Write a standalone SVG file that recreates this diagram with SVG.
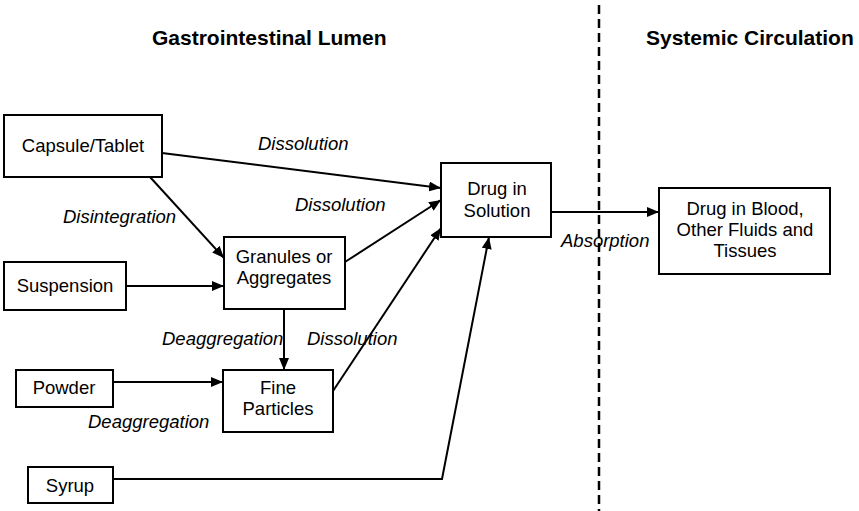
<svg xmlns="http://www.w3.org/2000/svg" width="859" height="511" viewBox="0 0 859 511">
<style>
  .box { fill: #fff; stroke: #000; stroke-width: 2; }
  .t { font-family: "Liberation Sans", Arial, sans-serif; font-size: 18.5px; fill: #000; text-anchor: middle; }
  .lbl { font-family: "Liberation Sans", Arial, sans-serif; font-size: 18.5px; font-style: italic; fill: #000; }
  .title { font-family: "Liberation Sans", Arial, sans-serif; font-size: 21px; font-weight: bold; fill: #000; }
  .c { fill: none; stroke: #000; stroke-width: 2; marker-end: url(#ah); }
</style>
<defs>
  <marker id="ah" viewBox="0 0 12 10" refX="12" refY="5" markerWidth="12" markerHeight="10" markerUnits="userSpaceOnUse" orient="auto">
    <path d="M0,0 L12,5 L0,10 Z" fill="#000"/>
  </marker>
</defs>
<rect width="859" height="511" fill="#fff"/>
<line x1="599" y1="5" x2="599" y2="511" stroke="#000" stroke-width="2.5" stroke-dasharray="9,5"/>
<text class="title" x="152" y="45">Gastrointestinal Lumen</text>
<text class="title" x="646" y="45">Systemic Circulation</text>

<g id="connectors">
  <line class="c" x1="162" y1="153" x2="441" y2="188"/>
  <line class="c" x1="150" y1="177" x2="224" y2="258"/>
  <line class="c" x1="126" y1="286" x2="224" y2="286"/>
  <line class="c" x1="345" y1="262" x2="441" y2="200"/>
  <line class="c" x1="333" y1="391" x2="441" y2="228"/>
  <line class="c" x1="284" y1="309" x2="284" y2="370"/>
  <line class="c" x1="113" y1="382" x2="223" y2="382"/>
  <polyline class="c" points="113,479 442,479 489,237"/>
  <line class="c" x1="551" y1="212" x2="659" y2="212"/>
  <text class="lbl" x="258" y="150">Dissolution</text>
  <text class="lbl" x="295" y="211">Dissolution</text>
  <text class="lbl" x="63" y="223">Disintegration</text>
  <text class="lbl" x="162" y="345">Deaggregation</text>
  <text class="lbl" x="307" y="345">Dissolution</text>
  <text class="lbl" x="88" y="428">Deaggregation</text>
  <text class="lbl" x="561" y="247">Absorption</text>
</g>

<g id="capsule"><rect class="box" x="4" y="115" width="158" height="62"/><text class="t" x="83" y="152">Capsule/Tablet</text></g>
<g id="suspension"><rect class="box" x="4" y="262" width="122" height="48"/><text class="t" x="65" y="292">Suspension</text></g>
<g id="granules"><rect class="box" x="224" y="237" width="121" height="72"/><text class="t" x="284" y="263">Granules or</text><text class="t" x="284" y="284">Aggregates</text></g>
<g id="fine"><rect class="box" x="223" y="370" width="110" height="62"/><text class="t" x="278" y="394">Fine</text><text class="t" x="278" y="415">Particles</text></g>
<g id="powder"><rect class="box" x="16" y="370" width="97" height="37"/><text class="t" x="64" y="394">Powder</text></g>
<g id="syrup"><rect class="box" x="28" y="467" width="85" height="36"/><text class="t" x="70" y="492">Syrup</text></g>
<g id="solution"><rect class="box" x="441" y="163" width="110" height="74"/><text class="t" x="497" y="195">Drug in</text><text class="t" x="497" y="217">Solution</text></g>
<g id="blood"><rect class="box" x="659" y="188" width="171" height="86"/><text class="t" x="745" y="215">Drug in Blood,</text><text class="t" x="745" y="236">Other Fluids and</text><text class="t" x="745" y="257">Tissues</text></g>
</svg>
